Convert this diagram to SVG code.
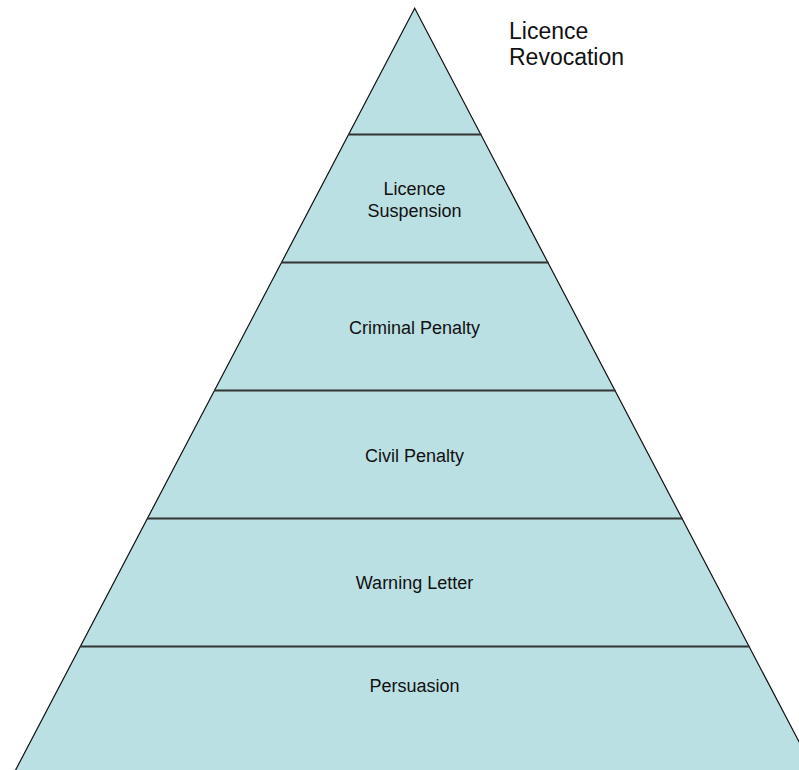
<svg xmlns="http://www.w3.org/2000/svg" width="799" height="770" viewBox="0 0 799 770">
<style>
.lbl{font-family:"Liberation Sans",Arial,sans-serif;font-size:18px;fill:#111;text-anchor:middle}
.out{font-family:"Liberation Sans",Arial,sans-serif;font-size:23px;fill:#111}
.sep{stroke:#333;stroke-width:2}
</style>
<rect width="799" height="770" fill="#fff"/>
<g id="pyramid">
<polygon points="414.7,8.3 13.5,774 815.9,774" fill="#BBE0E3" stroke="#111" stroke-width="1.2"/>
</g>
<g id="connectors">
<line class="sep" x1="348" y1="134.5" x2="481.5" y2="134.5"/>
<line class="sep" x1="281" y1="262.5" x2="548.5" y2="262.5"/>
<line class="sep" x1="214" y1="390.5" x2="615.5" y2="390.5"/>
<line class="sep" x1="147" y1="518.5" x2="682.5" y2="518.5"/>
<line class="sep" x1="80" y1="646.5" x2="749.5" y2="646.5"/>
</g>
<g id="revocation"><text class="out" x="509" y="38.5">Licence</text><text class="out" x="509" y="65">Revocation</text></g>
<g id="suspension"><text class="lbl" x="414.5" y="195">Licence</text><text class="lbl" x="414.5" y="216.5">Suspension</text></g>
<g id="criminal"><text class="lbl" x="414.5" y="334">Criminal Penalty</text></g>
<g id="civil"><text class="lbl" x="414.5" y="461.5">Civil Penalty</text></g>
<g id="warning"><text class="lbl" x="414.5" y="588.5">Warning Letter</text></g>
<g id="persuasion"><text class="lbl" x="414.5" y="691.5">Persuasion</text></g>
</svg>
